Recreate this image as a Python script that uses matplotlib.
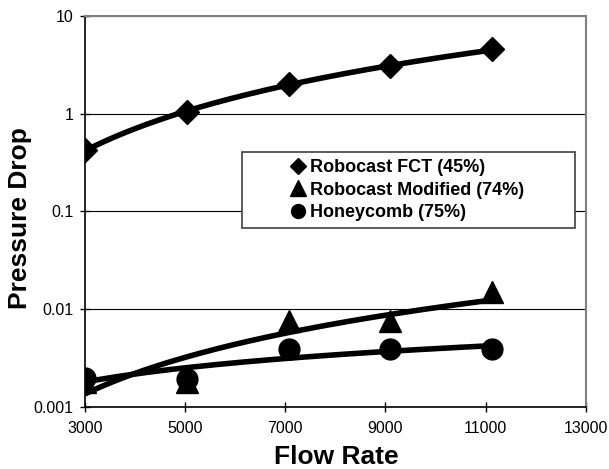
import numpy as np
import matplotlib
matplotlib.use("Agg")
import matplotlib.pyplot as plt
from matplotlib.patches import Rectangle
from matplotlib.lines import Line2D

plt.rcParams['font.family'] = ['Liberation Sans', 'DejaVu Sans']

flow = [3000, 5030, 7070, 9100, 11130]
fct = [0.42, 1.05, 2.0, 3.05, 4.55]
modified = [0.0018, 0.0018, 0.0075, 0.0075, 0.015]
honeycomb = [0.00195, 0.0019, 0.0039, 0.0039, 0.0039]
labels = ['Robocast FCT (45%)', 'Robocast Modified (74%)', 'Honeycomb (75%)']
markers = ['D', '^', 'o']
msizes = [12.5, 16, 15]
leg_msizes = [8.5, 11.5, 10]
xticks = [3000, 5000, 7000, 9000, 11000, 13000]
yticks = [0.001, 0.01, 0.1, 1, 10]
yticklabels = ['0.001', '0.01', '0.1', '1', '10']

fig = plt.figure(figsize=(6.09, 4.69), dpi=100)
W, H = 609, 469
ax = fig.add_axes([85 / W, 1 - 406.7 / H, (585.7 - 85) / W, (406.7 - 16) / H])

series = [fct, modified, honeycomb]
x = np.array(flow, dtype=float)
xs = np.linspace(x.min(), x.max(), 200)
handles = []
for ys, m, ms, lms, lab in zip(series, markers, msizes, leg_msizes, labels):
    ys = np.array(ys)
    # power-law trendline
    b, a = np.polyfit(np.log(x), np.log(ys), 1)
    ax.plot(xs, np.exp(a) * xs ** b, color='black', lw=4, zorder=3,
            solid_capstyle='butt')
    ax.plot(x, ys, linestyle='none', marker=m, markersize=ms,
            color='black', zorder=4)
    handles.append(Line2D([], [], linestyle='none', marker=m, markersize=lms,
                          color='black', label=lab))

ax.set_yscale('log')
ax.set_xlim(3000, 13000)
ax.set_ylim(0.001, 10)
ax.set_xticks(xticks)
ax.set_xticklabels([str(t) for t in xticks])
ax.set_yticks(yticks)
ax.set_yticklabels(yticklabels)
ax.yaxis.set_minor_locator(matplotlib.ticker.NullLocator())
ax.tick_params(axis='both', labelsize=11.5, length=7, width=1, direction='inout',
               colors='black')
ax.tick_params(axis='x', pad=7)
ax.tick_params(axis='y', pad=5)
ax.grid(True, axis='y', which='major', color='black', lw=0.8)
ax.set_axisbelow(True)

for s in ['top', 'right']:
    ax.spines[s].set_color('#808080')
    ax.spines[s].set_linewidth(1.5)
for s in ['left', 'bottom']:
    ax.spines[s].set_color('black')
    ax.spines[s].set_linewidth(1.2)

ax.set_xlabel('Flow Rate', fontsize=19, fontweight='bold')
ax.set_ylabel('Pressure Drop', fontsize=19, fontweight='bold')
ax.xaxis.set_label_coords((336.6 - 85) / (585.7 - 85), -(457 - 406.7) / (406.7 - 16))
ax.yaxis.set_label_coords(-(85 - 20) / (585.7 - 85), (406.7 - 218) / (406.7 - 16))
ax.xaxis.label.set_va('center')
ax.yaxis.label.set_va('center')

# legend box
bx0 = (242.3 - 85) / (585.7 - 85)
bx1 = (575.3 - 85) / (585.7 - 85)
by1 = (406.7 - 151.7) / (406.7 - 16)
by0 = (406.7 - 228.3) / (406.7 - 16)
ax.add_patch(Rectangle((bx0, by0), bx1 - bx0, by1 - by0, transform=ax.transAxes,
                       facecolor='white', edgecolor='#404040', lw=1.2, zorder=5))
leg = ax.legend(handles=handles, loc='center left', frameon=False,
                bbox_to_anchor=((290 - 85) / (585.7 - 85), (by0 + by1) / 2),
                prop={'weight': 'bold', 'size': 13},
                handlelength=0.9, handletextpad=0.2, labelspacing=0.3,
                borderpad=0, borderaxespad=0)
leg.set_zorder(6)

fig.savefig('out.png', dpi=100)
